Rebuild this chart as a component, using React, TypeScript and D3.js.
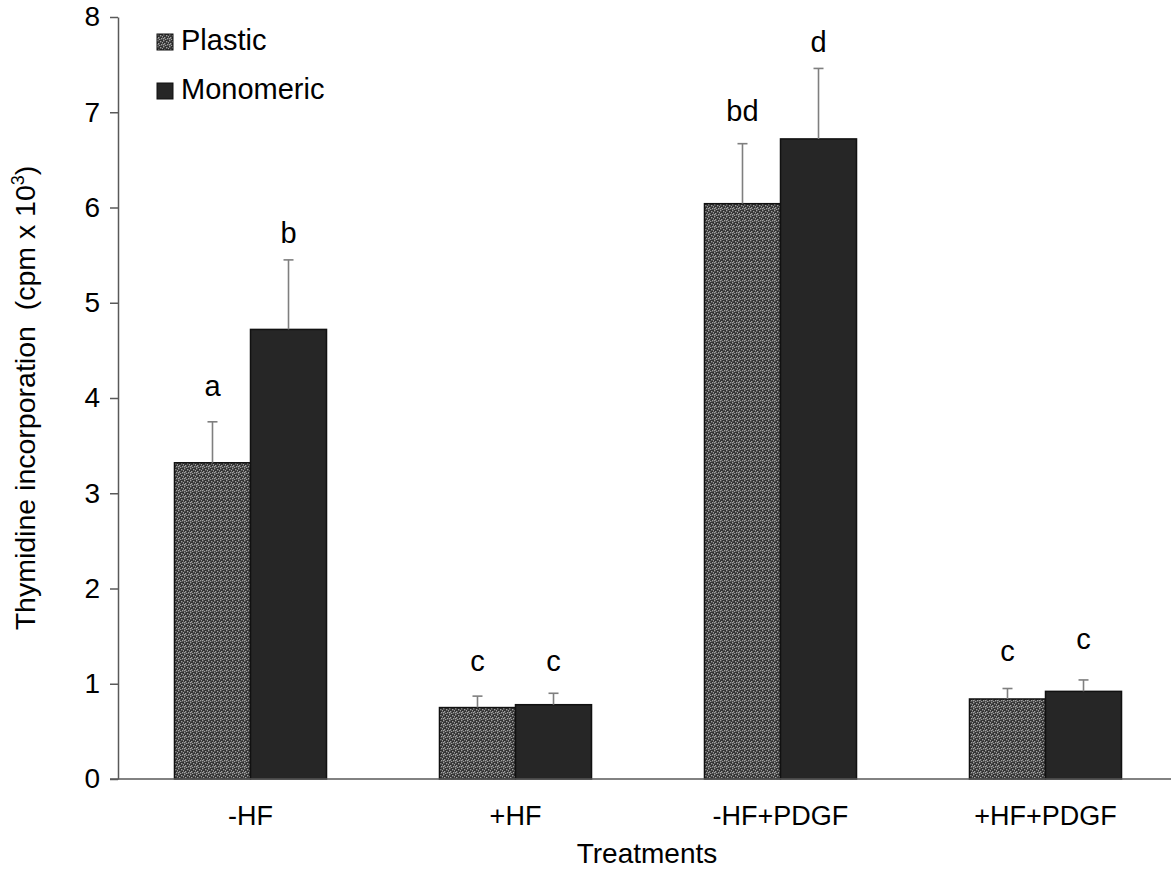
import React, { useEffect, useRef } from "react";
import * as d3 from "d3";

const categories = ["-HF", "+HF", "-HF+PDGF", "+HF+PDGF"];
const seriesNames = ["Plastic", "Monomeric"];
const plasticValues = [3.32, 0.75, 6.04, 0.84];
const plasticErrors = [0.43, 0.12, 0.63, 0.11];
const monomericValues = [4.72, 0.78, 6.72, 0.92];
const monomericErrors = [0.73, 0.12, 0.74, 0.12];
// significance letters and where their baseline sits (in y units)
const plasticLetters = ["a", "c", "bd", "c"];
const plasticLetterY = [4.02, 1.13, 6.91, 1.24];
const monomericLetters = ["b", "c", "d", "c"];
const monomericLetterY = [5.63, 1.13, 7.63, 1.36];
const yTicks = [0, 1, 2, 3, 4, 5, 6, 7, 8];

function App() {
  const svgRef = useRef<SVGSVGElement | null>(null);

  useEffect(() => {
    const svg = d3.select(svgRef.current);
    svg.selectAll("*").remove();
    const width = 1171;
    const height = 869;
    const margin = { top: 17, left: 118, bottom: 90 };
    const font = "'Liberation Sans', Arial, sans-serif";
    const axisColor = "#595959";

    const rows = categories.map((c, i) => [
      { cat: c, key: "Plastic", v: plasticValues[i], e: plasticErrors[i], lab: plasticLetters[i], ly: plasticLetterY[i] },
      { cat: c, key: "Monomeric", v: monomericValues[i], e: monomericErrors[i], lab: monomericLetters[i], ly: monomericLetterY[i] },
    ]);

    const x0 = d3.scaleBand().domain(categories).range([margin.left, 1178]);
    const x1 = d3
      .scaleBand()
      .domain(seriesNames)
      .range([0, x0.bandwidth()])
      .paddingInner(0)
      .paddingOuter(0.743);
    const y = d3
      .scaleLinear()
      .domain([0, 8])
      .range([height - margin.bottom, margin.top]);

    // dotted fill for the plastic bars
    const defs = svg.append("defs");
    const pat = defs
      .append("pattern")
      .attr("id", "dots")
      .attr("patternUnits", "userSpaceOnUse")
      .attr("width", 6)
      .attr("height", 6);
    pat.append("rect").attr("width", 6).attr("height", 6).attr("fill", "#333");
    [[0, 0], [3, 1], [1, 3], [4, 4], [2, 5], [5, 2], [0, 4]].forEach(([px, py]) => {
      pat
        .append("rect")
        .attr("x", px)
        .attr("y", py)
        .attr("width", 1.4)
        .attr("height", 1.4)
        .attr("fill", "#a0a0a0");
    });
    const fill = (k: string) => (k === "Plastic" ? "url(#dots)" : "#262626");

    // bars
    const groups = svg
      .append("g")
      .selectAll("g")
      .data(rows)
      .join("g")
      .attr("transform", (d) => `translate(${x0(d[0].cat)},0)`);

    groups
      .selectAll("rect")
      .data((d) => d)
      .join("rect")
      .attr("x", (d) => x1(d.key)!)
      .attr("y", (d) => y(d.v))
      .attr("width", x1.bandwidth())
      .attr("height", (d) => y(0) - y(d.v))
      .attr("fill", (d) => fill(d.key))
      .attr("stroke", "#111")
      .attr("stroke-width", 1.5);

    // error bars (upper only)
    const eb = groups
      .selectAll("g.err")
      .data((d) => d)
      .join("g")
      .attr("class", "err")
      .attr("stroke", "#7f7f7f")
      .attr("stroke-width", 1.6);
    eb.append("line")
      .attr("x1", (d) => x1(d.key)! + x1.bandwidth() / 2)
      .attr("x2", (d) => x1(d.key)! + x1.bandwidth() / 2)
      .attr("y1", (d) => y(d.v))
      .attr("y2", (d) => y(d.v + d.e));
    eb.append("line")
      .attr("x1", (d) => x1(d.key)! + x1.bandwidth() / 2 - 5)
      .attr("x2", (d) => x1(d.key)! + x1.bandwidth() / 2 + 5)
      .attr("y1", (d) => y(d.v + d.e))
      .attr("y2", (d) => y(d.v + d.e));

    // letters
    groups
      .selectAll("text")
      .data((d) => d)
      .join("text")
      .attr("x", (d) => x1(d.key)! + x1.bandwidth() / 2)
      .attr("y", (d) => y(d.ly))
      .attr("text-anchor", "middle")
      .attr("font-family", font)
      .attr("font-size", 29)
      .attr("fill", "#000")
      .text((d) => d.lab);

    // y axis
    const yAxis = d3.axisLeft(y).tickValues(yTicks).tickSize(8).tickSizeOuter(0).tickPadding(10);
    const ya = svg
      .append("g")
      .attr("transform", `translate(${margin.left},0)`)
      .call(yAxis);
    ya.select(".domain").attr("stroke", axisColor).attr("stroke-width", 1.5);
    ya.selectAll(".tick line").attr("stroke", axisColor).attr("stroke-width", 1.5);
    ya.selectAll(".tick text")
      .attr("font-family", font)
      .attr("font-size", 28)
      .attr("fill", "#000");

    // x axis line
    svg
      .append("line")
      .attr("x1", margin.left - 8)
      .attr("x2", width)
      .attr("y1", y(0))
      .attr("y2", y(0))
      .attr("stroke", axisColor)
      .attr("stroke-width", 1.5);

    // category labels
    svg
      .append("g")
      .selectAll("text")
      .data(categories)
      .join("text")
      .attr("x", (d) => x0(d)! + x0.bandwidth() / 2)
      .attr("y", 825)
      .attr("text-anchor", "middle")
      .attr("font-family", font)
      .attr("font-size", 27)
      .attr("fill", "#000")
      .text((d) => d);

    // axis titles
    svg
      .append("text")
      .attr("x", 647)
      .attr("y", 863)
      .attr("text-anchor", "middle")
      .attr("font-family", font)
      .attr("font-size", 28)
      .attr("fill", "#000")
      .text("Treatments");

    const yt = svg
      .append("text")
      .attr("transform", `translate(35,${(y(0) + y(8)) / 2}) rotate(-90)`)
      .attr("text-anchor", "middle")
      .attr("font-family", font)
      .attr("font-size", 28.5)
      .attr("fill", "#000")
      .style("white-space", "pre");
    yt.append("tspan").text("Thymidine incorporation  (cpm x 10");
    yt.append("tspan").attr("font-size", 18).attr("dy", -11).text("3");
    yt.append("tspan").attr("dy", 11).text(")");

    // legend
    const leg = svg
      .append("g")
      .selectAll("g")
      .data(seriesNames)
      .join("g")
      .attr("transform", (d, i) => `translate(157,${34 + i * 49})`);
    leg.append("rect")
      .attr("width", 16)
      .attr("height", 16)
      .attr("fill", (d) => fill(d))
      .attr("stroke", "#111")
      .attr("stroke-width", 1);
    leg.append("text")
      .attr("x", 24)
      .attr("y", 16)
      .attr("font-family", font)
      .attr("font-size", 29)
      .attr("fill", "#000")
      .text((d) => d);
  }, []);

  return (
    <svg
      ref={svgRef}
      width={1171}
      height={869}
      style={{ position: "absolute", left: 0, top: 0, background: "#fff" }}
    ></svg>
  );
}

export default App;
